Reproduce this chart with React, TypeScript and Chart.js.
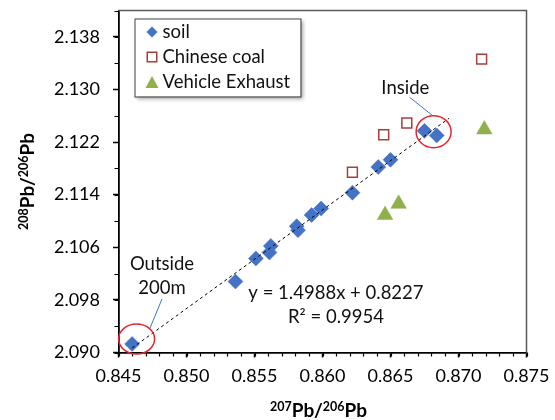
import React, { useEffect, useRef } from 'react';
import { Chart, registerables } from 'chart.js';

Chart.register(...registerables);

// ---------- data ----------
const SOIL_X = [0.8460, 0.8536, 0.8551, 0.8561, 0.8562, 0.8581, 0.8582, 0.8592, 0.8599, 0.8622, 0.8641, 0.8650, 0.8675, 0.8684];
const SOIL_Y = [2.0913, 2.1008, 2.1043, 2.1052, 2.1062, 2.1092, 2.1086, 2.1109, 2.1119, 2.1143, 2.1182, 2.1193, 2.1237, 2.1230];

const COAL_X = [0.8622, 0.8645, 0.8662, 0.8717];
const COAL_Y = [2.1174, 2.1231, 2.1249, 2.1346];

const EXHAUST_X = [0.8646, 0.8656, 0.8719];
const EXHAUST_Y = [2.1109, 2.1126, 2.1239];

const SERIES_LABELS = ['soil', 'Chinese coal', 'Vehicle Exhaust'];

const TREND_SLOPE = 1.4988;
const TREND_INTERCEPT = 0.8227;
const TREND_X_RANGE = [0.8460, 0.8693];
const EQUATION_TEXT = 'y = 1.4988x + 0.8227';
const R2_TEXT = 'R² = 0.9954';

const X_MIN = 0.845;
const X_MAX = 0.875;
const Y_MIN = 2.090;
const Y_MAX = 2.142;
const X_TICKS = [0.845, 0.850, 0.855, 0.860, 0.865, 0.870, 0.875];
const Y_TICKS = [2.090, 2.098, 2.106, 2.114, 2.122, 2.130, 2.138];
const X_MINOR_STEP = 0.001;
const Y_MINOR_STEP = 0.004;

const X_TITLE_PARTS = [
  { t: '207', sup: true },
  { t: 'Pb/', sup: false },
  { t: '206', sup: true },
  { t: 'Pb', sup: false },
];
const Y_TITLE_PARTS = [
  { t: '208', sup: true },
  { t: 'Pb/', sup: false },
  { t: '206', sup: true },
  { t: 'Pb', sup: false },
];

const INSIDE_LABEL = 'Inside';
const OUTSIDE_LABEL = ['Outside', '200m'];

// ---------- styles ----------
const FONT = 'Lato, "Open Sans", sans-serif';
const SOIL_COLOR = '#4472C4';
const COAL_COLOR = '#A43F3E';
const EXHAUST_COLOR = '#8FB04B';
const CIRCLE_COLOR = '#E3262B';
const TEXT_COLOR = '#111';
const LABEL_SIZE = 18.5;

function drawDiamond(ctx: CanvasRenderingContext2D, x: number, y: number, r: number) {
  ctx.beginPath();
  ctx.moveTo(x - r, y);
  ctx.lineTo(x, y - r);
  ctx.lineTo(x + r, y);
  ctx.lineTo(x, y + r);
  ctx.closePath();
  ctx.fillStyle = SOIL_COLOR;
  ctx.fill();
}

function drawSquare(ctx: CanvasRenderingContext2D, x: number, y: number, s: number) {
  ctx.fillStyle = '#fff';
  ctx.fillRect(x - s / 2, y - s / 2, s, s);
  ctx.strokeStyle = COAL_COLOR;
  ctx.lineWidth = 1.5;
  ctx.strokeRect(x - s / 2, y - s / 2, s, s);
}

function drawTriangle(ctx: CanvasRenderingContext2D, x: number, y: number, w: number, h: number) {
  ctx.beginPath();
  ctx.moveTo(x, y - h / 2);
  ctx.lineTo(x + w / 2, y + h / 2);
  ctx.lineTo(x - w / 2, y + h / 2);
  ctx.closePath();
  ctx.fillStyle = EXHAUST_COLOR;
  ctx.fill();
}

function drawSupText(
  ctx: CanvasRenderingContext2D,
  parts: { t: string; sup: boolean }[],
  cx: number,
  baseline: number,
) {
  const big = `bold 19px ${FONT}`;
  const small = `bold 12.5px ${FONT}`;
  let total = 0;
  const widths = parts.map((p) => {
    ctx.font = p.sup ? small : big;
    const w = ctx.measureText(p.t).width;
    total += w;
    return w;
  });
  let x = cx - total / 2;
  ctx.textAlign = 'left';
  ctx.textBaseline = 'alphabetic';
  parts.forEach((p, i) => {
    ctx.font = p.sup ? small : big;
    ctx.fillText(p.t, x, p.sup ? baseline - 6.5 : baseline);
    x += widths[i];
  });
}

const overlayPlugin = {
  id: 'overlay',
  afterDraw(chart: any) {
    const { ctx, chartArea: ca } = chart;
    const xs = chart.scales.x;
    const ys = chart.scales.y;
    const px = (v: number) => xs.getPixelForValue(v);
    const py = (v: number) => ys.getPixelForValue(v);
    ctx.save();

    // top and right frame
    ctx.strokeStyle = '#595959';
    ctx.lineWidth = 1.5;
    ctx.beginPath();
    ctx.moveTo(ca.left, ca.top);
    ctx.lineTo(ca.right, ca.top);
    ctx.lineTo(ca.right, ca.bottom);
    ctx.stroke();

    // minor ticks
    ctx.strokeStyle = '#000';
    ctx.lineWidth = 1.2;
    ctx.beginPath();
    for (let v = X_MIN; v <= X_MAX + 1e-9; v += X_MINOR_STEP) {
      const p = Math.round(px(v)) + 0.5;
      ctx.moveTo(p, ca.bottom);
      ctx.lineTo(p, ca.bottom + 4);
    }
    for (let v = Y_MIN; v <= Y_MAX + 1e-9; v += Y_MINOR_STEP) {
      const p = Math.round(py(v)) + 0.5;
      ctx.moveTo(ca.left, p);
      ctx.lineTo(ca.left - 4, p);
    }
    ctx.stroke();

    // circles
    ctx.strokeStyle = CIRCLE_COLOR;
    ctx.lineWidth = 1.5;
    ctx.beginPath();
    ctx.ellipse(px(0.86817), py(2.12358), 17.5, 16, 0, 0, Math.PI * 2);
    ctx.stroke();
    ctx.beginPath();
    ctx.ellipse(px(0.84633), py(2.09205), 18, 15, 0, 0, Math.PI * 2);
    ctx.stroke();

    // pointer lines
    ctx.strokeStyle = SOIL_COLOR;
    ctx.lineWidth = 1;
    ctx.beginPath();
    ctx.moveTo(px(0.86639), py(2.12883));
    ctx.lineTo(px(0.86812), py(2.12598));
    ctx.moveTo(px(0.84820), py(2.09814));
    ctx.lineTo(px(0.84732), py(2.09373));
    ctx.stroke();

    // annotation texts
    ctx.fillStyle = TEXT_COLOR;
    ctx.font = `${LABEL_SIZE}px ${FONT}`;
    ctx.textAlign = 'center';
    ctx.textBaseline = 'middle';
    ctx.fillText(INSIDE_LABEL, px(0.86609), py(2.13020));
    ctx.fillText(OUTSIDE_LABEL[0], px(0.84820), py(2.10346));
    ctx.fillText(OUTSIDE_LABEL[1], px(0.84820), py(2.09977));
    ctx.fillText(EQUATION_TEXT, px(0.86099), py(2.09901));
    ctx.fillText(R2_TEXT, px(0.86099), py(2.09545));

    // legend
    const lx = ca.left + 16;
    const ly = ca.top + 8;
    const lw = 166;
    const lh = 78;
    ctx.save();
    ctx.shadowColor = 'rgba(0,0,0,0.35)';
    ctx.shadowBlur = 4;
    ctx.shadowOffsetX = 2;
    ctx.shadowOffsetY = 2;
    ctx.fillStyle = '#fff';
    ctx.fillRect(lx, ly, lw, lh);
    ctx.restore();
    ctx.strokeStyle = '#404040';
    ctx.lineWidth = 1;
    ctx.strokeRect(lx + 0.5, ly + 0.5, lw, lh);
    const rowY = [ly + 13.5, ly + 38.5, ly + 63.5];
    const mx = lx + 17.5;
    drawDiamond(ctx, mx, rowY[0], 5.5);
    drawSquare(ctx, mx, rowY[1], 9.5);
    drawTriangle(ctx, mx, rowY[2], 13, 12);
    ctx.fillStyle = TEXT_COLOR;
    ctx.font = `${LABEL_SIZE}px ${FONT}`;
    ctx.textAlign = 'left';
    ctx.textBaseline = 'middle';
    SERIES_LABELS.forEach((s, i) => ctx.fillText(s, lx + 28, rowY[i]));

    // axis titles
    ctx.fillStyle = '#000';
    drawSupText(ctx, X_TITLE_PARTS, (ca.left + ca.right) / 2 - 4, 417);
    ctx.save();
    ctx.translate(34, (ca.top + ca.bottom) / 2);
    ctx.rotate(-Math.PI / 2);
    drawSupText(ctx, Y_TITLE_PARTS, 0, 0);
    ctx.restore();

    ctx.restore();
  },
};

export default function App() {
  const ref = useRef<HTMLCanvasElement | null>(null);

  useEffect(() => {
    if (!ref.current) return;
    const soil = SOIL_X.map((x, i) => ({ x, y: SOIL_Y[i] }));
    const coal = COAL_X.map((x, i) => ({ x, y: COAL_Y[i] }));
    const exhaust = EXHAUST_X.map((x, i) => ({ x, y: EXHAUST_Y[i] }));
    const trend = TREND_X_RANGE.map((x) => ({ x, y: TREND_SLOPE * x + TREND_INTERCEPT }));

    const tickFont = { family: FONT, size: 18 };

    const chart = new Chart(ref.current, {
      type: 'scatter',
      data: {
        datasets: [
          {
            label: 'trend',
            data: trend,
            showLine: true,
            borderColor: '#000',
            borderWidth: 1,
            borderDash: [3, 3],
            pointRadius: 0,
            fill: false,
          },
          {
            label: SERIES_LABELS[0],
            data: soil,
            pointStyle: 'rectRot',
            pointRadius: 7.5,
            backgroundColor: SOIL_COLOR,
            borderColor: SOIL_COLOR,
            borderWidth: 0.5,
          },
          {
            label: SERIES_LABELS[1],
            data: coal,
            pointStyle: 'rect',
            pointRadius: 7,
            backgroundColor: '#ffffff',
            borderColor: COAL_COLOR,
            borderWidth: 1.5,
          },
          {
            label: SERIES_LABELS[2],
            data: exhaust,
            pointStyle: 'triangle',
            pointRadius: 9,
            backgroundColor: EXHAUST_COLOR,
            borderColor: EXHAUST_COLOR,
            borderWidth: 0.5,
          },
        ],
      },
      options: {
        responsive: false,
        animation: false,
        events: [],
        layout: { padding: { left: 0, top: 10.5, right: 28.5, bottom: 0 } },
        plugins: { legend: { display: false }, tooltip: { enabled: false } },
        scales: {
          x: {
            type: 'linear',
            min: X_MIN,
            max: X_MAX,
            afterBuildTicks: (s: any) => {
              s.ticks = X_TICKS.map((v) => ({ value: v }));
            },
            afterFit: (s: any) => {
              s.height = 67.5;
              s.paddingLeft = 0;
              s.paddingRight = 0;
            },
            ticks: {
              font: tickFont,
              color: '#000',
              padding: 8,
              maxRotation: 0,
              autoSkip: false,
              callback: (v: any) => Number(v).toFixed(3),
            },
            grid: {
              display: true,
              drawOnChartArea: false,
              drawTicks: true,
              tickLength: 5,
              tickColor: '#000',
              tickWidth: 1.5,
            },
            border: { display: true, color: '#000', width: 1.8 },
          },
          y: {
            type: 'linear',
            min: Y_MIN,
            max: Y_MAX,
            afterBuildTicks: (s: any) => {
              s.ticks = Y_TICKS.map((v) => ({ value: v }));
            },
            afterFit: (s: any) => {
              s.width = 118.5;
              s.paddingTop = 0;
              s.paddingBottom = 0;
            },
            ticks: {
              font: tickFont,
              color: '#000',
              padding: 13,
              autoSkip: false,
              callback: (v: any) => Number(v).toFixed(3),
            },
            grid: {
              display: true,
              drawOnChartArea: false,
              drawTicks: true,
              tickLength: 5.5,
              tickColor: '#000',
              tickWidth: 1.5,
            },
            border: { display: true, color: '#000', width: 1.8 },
          },
        },
      },
      plugins: [overlayPlugin],
    } as any);

    return () => chart.destroy();
  }, []);

  return (
    <div style={{ position: 'fixed', left: 0, top: 0, width: 555, height: 420, background: '#fff' }}>
      <canvas ref={ref} width={555} height={420} style={{ display: 'block' }} />
    </div>
  );
}
